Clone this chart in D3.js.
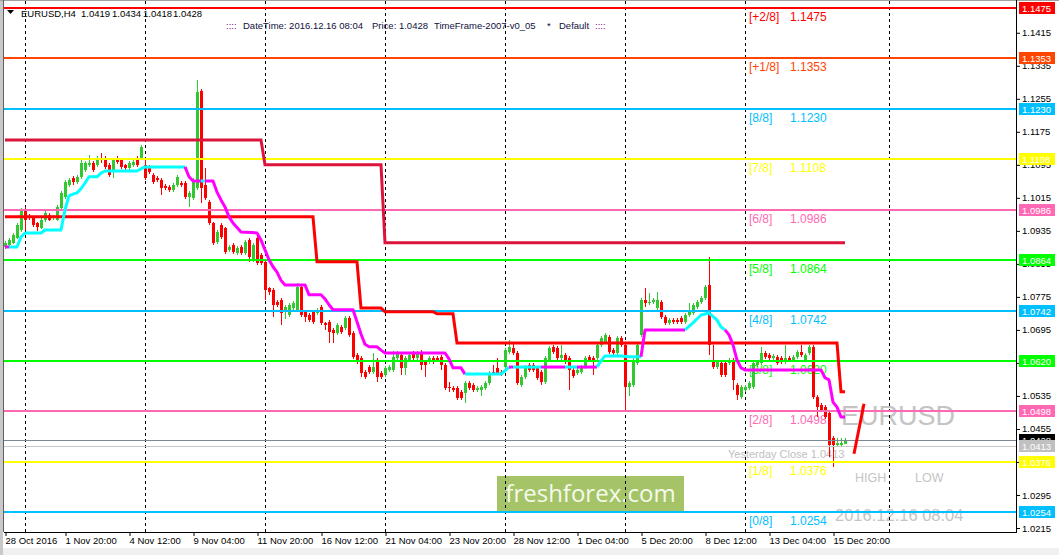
<!DOCTYPE html>
<html><head><meta charset="utf-8">
<script src="https://cdn.jsdelivr.net/npm/d3@7"></script>
<style>html,body{margin:0;padding:0;background:#fff;overflow:hidden}</style>
</head><body><svg id="c" width="1059" height="555"></svg>
<script>
// ---------------- DATA ----------------
const symbol = "EURUSD,H4";
const lastOHLC = [1.0419, 1.0434, 1.0418, 1.0428];
const infoDate = "2016.12.16 08:04";
const infoPrice = "1.0428";
const infoName = "TimeFrame-2007-v0_05";
const infoSet = "Default";

// OHLC per H4 bar (bar 0 = 28 Oct 2016, bar 210 = 16 Dec 08:00)
const candles = [
[1.0896,1.0910,1.0892,1.0906],[1.0901,1.0918,1.0897,1.0913],[1.0906,1.0930,1.0903,1.0925],[1.0918,1.0954,1.0915,1.0949],[1.0937,1.0991,1.0932,1.0986],
[1.0986,1.0993,1.0937,1.0962],[1.0971,1.0976,1.0961,1.0966],[1.0966,1.0969,1.0945,1.0949],[1.0954,1.0957,1.0935,1.0945],[1.0942,1.0966,1.0939,1.0962],
[1.0962,1.0983,1.0957,1.0979],[1.0974,1.0979,1.0959,1.0962],[1.0966,1.0974,1.0962,1.0969],[1.0962,1.0998,1.0959,1.0993],[1.0991,1.1032,1.0988,1.1027],
[1.1017,1.1058,1.1012,1.1053],[1.1046,1.1063,1.1041,1.1058],[1.1063,1.1068,1.1046,1.1053],[1.1053,1.1070,1.1048,1.1066],[1.1066,1.1107,1.1061,1.1100],
[1.1083,1.1104,1.1078,1.1100],[1.1095,1.1119,1.1090,1.1100],[1.1100,1.1104,1.1078,1.1083],[1.1095,1.1117,1.1090,1.1112],[1.1112,1.1124,1.1100,1.1110],
[1.1112,1.1117,1.1085,1.1090],[1.1095,1.1100,1.1066,1.1070],[1.1078,1.1112,1.1063,1.1107],[1.1112,1.1117,1.1097,1.1102],[1.1107,1.1110,1.1085,1.1090],
[1.1095,1.1098,1.1078,1.1087],[1.1087,1.1104,1.1083,1.1100],[1.1095,1.1112,1.1090,1.1102],[1.1112,1.1117,1.1090,1.1095],[1.1112,1.1143,1.1107,1.1138],
[1.1095,1.1110,1.1058,1.1063],[1.1090,1.1095,1.1073,1.1078],[1.1070,1.1075,1.1048,1.1053],[1.1063,1.1068,1.1053,1.1058],[1.1058,1.1063,1.1022,1.1039],
[1.1043,1.1048,1.1034,1.1039],[1.1041,1.1046,1.1029,1.1034],[1.1034,1.1051,1.1029,1.1046],[1.1046,1.1070,1.1041,1.1066],[1.1051,1.1056,1.1041,1.1046],
[1.1051,1.1056,1.1012,1.1017],[1.1017,1.1032,1.0993,1.1027],[1.1015,1.1063,1.1010,1.1058],[1.1039,1.1301,1.1034,1.1272],[1.1274,1.1278,1.1003,1.1039],
[1.1046,1.1087,1.1010,1.1015],[1.1005,1.1010,1.0949,1.0954],[1.0954,1.0957,1.0901,1.0906],[1.0908,1.0937,1.0903,1.0932],[1.0949,1.0954,1.0915,1.0920],
[1.0942,1.0945,1.0879,1.0884],[1.0889,1.0901,1.0884,1.0896],[1.0901,1.0906,1.0879,1.0884],[1.0881,1.0898,1.0876,1.0894],[1.0896,1.0901,1.0876,1.0881],
[1.0881,1.0913,1.0876,1.0908],[1.0913,1.0918,1.0860,1.0872],[1.0865,1.0906,1.0860,1.0901],[1.0918,1.0922,1.0852,1.0857],[1.0877,1.0882,1.0852,1.0857],
[1.0860,1.0865,1.0768,1.0792],[1.0797,1.0800,1.0780,1.0787],[1.0792,1.0797,1.0727,1.0756],[1.0763,1.0768,1.0751,1.0756],[1.0768,1.0773,1.0707,1.0736],
[1.0739,1.0756,1.0722,1.0751],[1.0731,1.0761,1.0727,1.0756],[1.0748,1.0766,1.0744,1.0761],[1.0744,1.0809,1.0739,1.0799],[1.0799,1.0804,1.0727,1.0731],
[1.0739,1.0744,1.0714,1.0727],[1.0731,1.0736,1.0714,1.0719],[1.0739,1.0744,1.0710,1.0714],[1.0736,1.0748,1.0731,1.0744],[1.0751,1.0756,1.0707,1.0712],
[1.0712,1.0714,1.0695,1.0707],[1.0714,1.0719,1.0663,1.0690],[1.0695,1.0700,1.0663,1.0688],[1.0688,1.0712,1.0683,1.0707],[1.0702,1.0707,1.0685,1.0690],
[1.0700,1.0729,1.0695,1.0724],[1.0724,1.0729,1.0678,1.0683],[1.0688,1.0693,1.0625,1.0630],[1.0634,1.0639,1.0612,1.0617],[1.0627,1.0632,1.0581,1.0591],
[1.0593,1.0598,1.0576,1.0581],[1.0605,1.0610,1.0588,1.0593],[1.0593,1.0639,1.0588,1.0605],[1.0622,1.0627,1.0569,1.0581],[1.0591,1.0595,1.0576,1.0581],
[1.0586,1.0608,1.0581,1.0603],[1.0598,1.0610,1.0593,1.0605],[1.0598,1.0644,1.0593,1.0630],[1.0627,1.0644,1.0622,1.0639],[1.0634,1.0639,1.0586,1.0603],
[1.0603,1.0632,1.0586,1.0627],[1.0622,1.0639,1.0617,1.0634],[1.0639,1.0644,1.0622,1.0627],[1.0627,1.0644,1.0622,1.0639],[1.0642,1.0647,1.0598,1.0610],
[1.0617,1.0622,1.0581,1.0610],[1.0617,1.0632,1.0612,1.0627],[1.0627,1.0632,1.0612,1.0617],[1.0627,1.0632,1.0617,1.0622],[1.0630,1.0634,1.0598,1.0610],
[1.0610,1.0615,1.0550,1.0555],[1.0557,1.0569,1.0545,1.0555],[1.0555,1.0560,1.0545,1.0550],[1.0555,1.0560,1.0525,1.0530],[1.0545,1.0550,1.0525,1.0530],
[1.0543,1.0572,1.0518,1.0567],[1.0567,1.0572,1.0550,1.0555],[1.0562,1.0567,1.0545,1.0550],[1.0550,1.0560,1.0545,1.0555],[1.0550,1.0562,1.0535,1.0557],
[1.0555,1.0572,1.0550,1.0567],[1.0567,1.0596,1.0562,1.0591],[1.0593,1.0610,1.0586,1.0591],[1.0603,1.0627,1.0586,1.0591],[1.0593,1.0598,1.0584,1.0589],
[1.0605,1.0652,1.0600,1.0647],[1.0642,1.0671,1.0637,1.0654],[1.0651,1.0666,1.0634,1.0639],[1.0639,1.0644,1.0562,1.0567],[1.0562,1.0586,1.0557,1.0581],
[1.0581,1.0610,1.0576,1.0605],[1.0610,1.0615,1.0593,1.0598],[1.0610,1.0615,1.0593,1.0598],[1.0603,1.0608,1.0574,1.0579],[1.0593,1.0598,1.0562,1.0569],
[1.0569,1.0632,1.0564,1.0627],[1.0622,1.0656,1.0617,1.0651],[1.0654,1.0659,1.0637,1.0642],[1.0651,1.0656,1.0622,1.0627],[1.0627,1.0659,1.0622,1.0634],
[1.0634,1.0639,1.0612,1.0617],[1.0627,1.0632,1.0550,1.0598],[1.0598,1.0603,1.0578,1.0583],[1.0591,1.0603,1.0586,1.0598],[1.0593,1.0610,1.0588,1.0605],
[1.0605,1.0632,1.0600,1.0627],[1.0630,1.0634,1.0617,1.0622],[1.0627,1.0632,1.0586,1.0622],[1.0627,1.0664,1.0622,1.0659],[1.0659,1.0681,1.0654,1.0676],
[1.0666,1.0688,1.0661,1.0683],[1.0678,1.0683,1.0637,1.0642],[1.0647,1.0651,1.0630,1.0639],[1.0639,1.0681,1.0634,1.0676],[1.0676,1.0681,1.0654,1.0659],
[1.0659,1.0664,1.0501,1.0557],[1.0557,1.0572,1.0535,1.0567],[1.0562,1.0627,1.0557,1.0622],[1.0615,1.0664,1.0610,1.0659],[1.0683,1.0773,1.0678,1.0768],
[1.0768,1.0797,1.0751,1.0761],[1.0761,1.0785,1.0756,1.0763],[1.0763,1.0773,1.0758,1.0768],[1.0748,1.0787,1.0744,1.0768],[1.0763,1.0768,1.0722,1.0727],
[1.0727,1.0731,1.0707,1.0712],[1.0712,1.0724,1.0707,1.0719],[1.0719,1.0724,1.0710,1.0714],[1.0719,1.0724,1.0710,1.0714],[1.0724,1.0729,1.0710,1.0714],
[1.0714,1.0736,1.0710,1.0731],[1.0731,1.0761,1.0727,1.0739],[1.0736,1.0761,1.0731,1.0756],[1.0751,1.0768,1.0746,1.0763],[1.0763,1.0778,1.0758,1.0773],
[1.0773,1.0804,1.0768,1.0799],[1.0804,1.0872,1.0634,1.0659],[1.0622,1.0659,1.0600,1.0605],[1.0605,1.0622,1.0600,1.0617],[1.0615,1.0620,1.0581,1.0586],
[1.0615,1.0620,1.0581,1.0586],[1.0615,1.0627,1.0610,1.0622],[1.0622,1.0627,1.0550,1.0574],[1.0562,1.0567,1.0525,1.0538],[1.0533,1.0562,1.0528,1.0557],
[1.0550,1.0562,1.0545,1.0557],[1.0555,1.0572,1.0550,1.0567],[1.0557,1.0620,1.0552,1.0615],[1.0610,1.0622,1.0605,1.0617],[1.0615,1.0654,1.0610,1.0639],
[1.0639,1.0644,1.0625,1.0630],[1.0634,1.0639,1.0622,1.0627],[1.0627,1.0637,1.0622,1.0632],[1.0630,1.0634,1.0610,1.0615],[1.0627,1.0632,1.0612,1.0617],
[1.0617,1.0659,1.0612,1.0627],[1.0627,1.0632,1.0617,1.0622],[1.0622,1.0634,1.0617,1.0630],[1.0630,1.0647,1.0625,1.0642],[1.0642,1.0659,1.0630,1.0634],
[1.0622,1.0639,1.0617,1.0634],[1.0639,1.0659,1.0634,1.0654],[1.0654,1.0659,1.0528,1.0533],[1.0533,1.0538,1.0484,1.0508],[1.0513,1.0518,1.0496,1.0501],
[1.0508,1.0513,1.0479,1.0484],[1.0494,1.0499,1.0387,1.0416],[1.0433,1.0438,1.0363,1.0416],[1.0416,1.0433,1.0411,1.0421],[1.0416,1.0433,1.0411,1.0421],
[1.0419,1.0434,1.0418,1.0428]
];

// time axis labels and the bar each one belongs to
const timeLabels = ["28 Oct 2016","1 Nov 20:00","4 Nov 12:00","9 Nov 04:00","11 Nov 20:00","16 Nov 12:00","21 Nov 04:00","23 Nov 20:00","28 Nov 12:00","1 Dec 04:00","5 Dec 20:00","8 Dec 12:00","13 Dec 04:00","15 Dec 20:00"];
const timeLabelBars = [0,15,31,47,63,79,95,111,127,143,159,175,191,207];
const gridBars = [5,35,65,95,125,155,185,221];

// price axis ticks
const priceTicks = [1.1415,1.1335,1.1255,1.1175,1.1095,1.1015,1.0935,1.0855,1.0775,1.0695,1.0615,1.0535,1.0455,1.0375,1.0295,1.0215];

// Murrey math levels
const levelNames = ["[+2/8]","[+1/8]","[8/8]","[7/8]","[6/8]","[5/8]","[4/8]","[3/8]","[2/8]","[1/8]","[0/8]"];
const levelValues = [1.1475,1.1353,1.1230,1.1108,1.0986,1.0864,1.0742,1.0620,1.0498,1.0376,1.0254];

const currentPrice = 1.0428;
const yesterdayClose = 1.0413;

// trailing (cyan = up, magenta = down) line vertices
const trailBars = [0,1,3,4,5,9,10,14,15,16,17,18,19,20,21,23,24,25,33,34,35,45,46,47,48,49,50,52,53,54,55,56,57,59,63,64,65,66,67,68,69,70,75,76,79,80,81,82,87,88,89,90,91,93,94,95,110,111,112,114,115,124,125,126,127,134,140,143,148,149,150,154,156,159,160,170,172,174,176,177,178,179,180,181,182,183,184,185,204,205,206,207,208,209,210];
const trailVals = [1.0896,1.0896,1.0896,1.0920,1.0930,1.0930,1.0937,1.0937,1.0986,1.1020,1.1024,1.1027,1.1037,1.1051,1.1066,1.1066,1.1075,1.1080,1.1080,1.1085,1.1090,1.1090,1.1066,1.1056,1.1056,1.1056,1.1056,1.1056,1.1029,1.1010,1.0993,1.0969,1.0954,1.0932,1.0930,1.0913,1.0889,1.0865,1.0848,1.0835,1.0815,1.0804,1.0804,1.0780,1.0780,1.0770,1.0756,1.0744,1.0744,1.0715,1.0685,1.0660,1.0654,1.0654,1.0646,1.0639,1.0639,1.0625,1.0603,1.0603,1.0588,1.0588,1.0596,1.0605,1.0605,1.0605,1.0605,1.0605,1.0605,1.0620,1.0632,1.0632,1.0630,1.0630,1.0695,1.0695,1.0712,1.0731,1.0736,1.0727,1.0719,1.0702,1.0695,1.0683,1.0659,1.0622,1.0603,1.0598,1.0598,1.0579,1.0574,1.0520,1.0508,1.0484,1.0484];
const trailDir = "dduuuuuuuuuuuuuuuuuuuuddddudddddddddddddddddddddddddddddddddduuudududuuuuudduuuuuuuddddddddddddddddd";

// stepped level lines
const crimsonBars = [0,64,65,94,95,210];
const crimsonVals = [1.1155,1.1155,1.1095,1.1095,1.0906,1.0906];
const redBars = [0,77,78,88,89,94,95,107,108,112,113,208,209,210];
const redVals = [1.0969,1.0969,1.0860,1.0860,1.0748,1.0748,1.0739,1.0739,1.0734,1.0734,1.0663,1.0663,1.0545,1.0545];

// daily range marker
const slashBars = [214.75,212.25];
const slashVals = [1.0516,1.0395];

// ---------------- DRAW ----------------
const svg = d3.select('#c');
const F = "'Liberation Sans', Arial, sans-serif";
const x = d3.scaleLinear().domain([0,210]).range([5,845]);
const y = d3.scaleLinear().domain([1.0215,1.1475]).range([528,8]);
const X = i => Math.round(x(i));
const Y = v => Math.round(y(v));

const levelColors = ["#ff0000","#ff4500","#00bfff","#ffff00","#ff69b4","#00ff00","#00bfff","#00ff00","#ff69b4","#ffff00","#00bfff"];

svg.append('rect').attr('width',1059).attr('height',555).attr('fill','#fff');
svg.append('rect').attr('x',0).attr('y',548).attr('width',1059).attr('height',7).attr('fill','#f0f0f0');
svg.append('rect').attr('x',0).attr('y',0).attr('width',3).attr('height',555).attr('fill','#c8c8c8');
svg.append('rect').attr('x',0).attr('y',0).attr('width',1059).attr('height',1).attr('fill','#a0a0a0');
svg.append('line').attr('x1',3.5).attr('x2',3.5).attr('y1',0).attr('y2',532).attr('stroke','#606060');

// logo
svg.append('rect').attr('x',497).attr('y',476).attr('width',187).attr('height',35).attr('fill','#a5c468');
svg.append('text').attr('x',590.5).attr('y',502).attr('text-anchor','middle')
  .attr('font-family',"'Open Sans', sans-serif").attr('font-size',24).attr('fill','#f5faec').text('freshforex.com');

// level labels
const lab = svg.append('g').attr('font-family',F).attr('font-size',12);
levelNames.forEach((n,k)=>{
  lab.append('text').attr('x',749).attr('y',Y(levelValues[k])+13).attr('fill',levelColors[k]).text(n);
  lab.append('text').attr('x',790).attr('y',Y(levelValues[k])+13).attr('fill',levelColors[k]).text(d3.format('.4f')(levelValues[k]));
});
svg.append('text').attr('x',728).attr('y',458).attr('font-family',F).attr('font-size',11).attr('fill','#c0c0c0')
  .text('Yesterday Close '+d3.format('.4f')(yesterdayClose));
svg.append('text').attr('x',841).attr('y',425).attr('font-family',F).attr('font-size',27).attr('fill','#c4c4c4').text(symbol.split(',')[0]);
svg.append('text').attr('x',855).attr('y',482).attr('font-family',F).attr('font-size',12.5).attr('fill','#c4c4c4').text('HIGH');
svg.append('text').attr('x',915).attr('y',482).attr('font-family',F).attr('font-size',12.5).attr('fill','#c4c4c4').text('LOW');
svg.append('text').attr('x',835).attr('y',521).attr('font-family',F).attr('font-size',16.5).attr('fill','#c4c4c4').text(infoDate);

// grid
svg.append('g').selectAll('line').data(gridBars).join('line')
  .attr('x1',d=>X(d)+0.5).attr('x2',d=>X(d)+0.5).attr('y1',1).attr('y2',532)
  .attr('stroke','#000').attr('stroke-dasharray','3,3');

// candles
const cg = svg.append('g').attr('shape-rendering','crispEdges');
candles.forEach((c,i)=>{
  const [o,h,l,cl]=c; const up = cl>=o; const col = up?'#32c832':'#ff0000';
  const cx = X(i);
  cg.append('rect').attr('x',cx).attr('width',1).attr('y',Y(h)).attr('height',Math.max(1,Y(l)-Y(h))).attr('fill',col);
  const t=Y(Math.max(o,cl)), b=Y(Math.min(o,cl));
  cg.append('rect').attr('x',cx-1).attr('width',3).attr('y',t).attr('height',Math.max(1,b-t)).attr('fill',col);
});

// murrey lines and price lines
const lg = svg.append('g').attr('shape-rendering','crispEdges');
levelValues.forEach((v,k)=>{
  lg.append('line').attr('x1',4).attr('x2',1016).attr('y1',Y(v)).attr('y2',Y(v)).attr('stroke',levelColors[k]).attr('stroke-width',2);
});
lg.append('line').attr('x1',4).attr('x2',1016).attr('y1',Y(currentPrice)+0.5).attr('y2',Y(currentPrice)+0.5).attr('stroke','#7b8794');
lg.append('line').attr('x1',4).attr('x2',1016).attr('y1',Y(yesterdayClose)+0.5).attr('y2',Y(yesterdayClose)+0.5).attr('stroke','#c8c8c8');

// stepped lines
const line = d3.line().x(d=>x(d[0])).y(d=>y(d[1]));
svg.append('path').attr('d',line(crimsonBars.map((b,k)=>[b,crimsonVals[k]]))).attr('fill','none').attr('stroke','#dc143c').attr('stroke-width',3);
svg.append('path').attr('d',line(redBars.map((b,k)=>[b,redVals[k]]))).attr('fill','none').attr('stroke','#ff0000').attr('stroke-width',3);

// trail
const runs=[]; let cur=null;
for(let k=1;k<trailBars.length;k++){
  const col = trailDir[k]==='u'?'#00ffff':'#ff00ff';
  if(!cur||cur.col!==col){cur={col,pts:[[trailBars[k-1],trailVals[k-1]]]};runs.push(cur);}
  cur.pts.push([trailBars[k],trailVals[k]]);
}
runs.forEach(r=>svg.append('path').attr('d',line(r.pts)).attr('fill','none').attr('stroke',r.col).attr('stroke-width',3).attr('stroke-linejoin','round'));

svg.append('path').attr('d',line(slashBars.map((b,k)=>[b,slashVals[k]]))).attr('fill','none').attr('stroke','#ff0000').attr('stroke-width',3);

// axes
const ra = svg.append('g').attr('transform','translate(1016,0)')
  .call(d3.axisRight(y).tickValues(priceTicks).tickSize(4).tickPadding(2).tickSizeOuter(0).tickFormat(d3.format('.4f')));
ra.select('.domain').remove();
ra.selectAll('text').attr('font-family',F).attr('font-size',9.5).attr('fill','#000');
svg.append('line').attr('x1',1016.5).attr('x2',1016.5).attr('y1',0).attr('y2',532).attr('stroke','#000');
svg.append('line').attr('x1',4).attr('x2',1017).attr('y1',532.5).attr('y2',532.5).attr('stroke','#000');

const ba = svg.append('g').attr('transform','translate(0,532)')
  .call(d3.axisBottom(x).tickValues(timeLabelBars).tickSize(4).tickFormat((d,k)=>timeLabels[k]));
ba.select('.domain').remove();
ba.selectAll('.tick line').attr('transform','translate(0.5,0)');
ba.selectAll('text').attr('text-anchor','start').attr('dx',0).attr('y',5).attr('font-family',F).attr('font-size',9.5).attr('fill','#000');

// price boxes
const bx = svg.append('g').attr('font-family',F).attr('font-size',9.5);
function box(v,fill,txt){
  const cy=Y(v);
  bx.append('rect').attr('x',1019).attr('y',cy-6).attr('width',36).attr('height',12).attr('fill',fill);
  bx.append('text').attr('x',1022).attr('y',cy+3.5).attr('fill',txt).text(d3.format('.4f')(v));
}
levelValues.forEach((v,k)=>box(v,levelColors[k],'#fff'));
box(currentPrice,'#000','#fff');
box(yesterdayClose,'#c0c0c0','#fff');

// header
svg.append('path').attr('d','M7,10 L14,10 L10.5,14 Z').attr('fill','#000');
const hg = svg.append('g').attr('font-family',F).attr('font-size',9.5).attr('fill','#000');
hg.append('text').attr('x',21).attr('y',16.5).text(symbol);
[81,112,143,173].forEach((px,k)=>hg.append('text').attr('x',px).attr('y',16.5).text(d3.format('.4f')(lastOHLC[k])));
const h2 = svg.append('g').attr('font-family',F).attr('font-size',9.5).attr('fill','#101040');
h2.append('text').attr('x',226).attr('y',28.5).attr('fill','#800080').text('::::');
h2.append('text').attr('x',243).attr('y',28.5).text('DateTime: '+infoDate);
h2.append('text').attr('x',372).attr('y',28.5).text('Price: '+infoPrice);
h2.append('text').attr('x',434).attr('y',28.5).text(infoName);
h2.append('text').attr('x',547).attr('y',28.5).text('*');
h2.append('text').attr('x',559).attr('y',28.5).text(infoSet);
h2.append('text').attr('x',595).attr('y',28.5).attr('fill','#800080').text('::::');
</script></body></html>
